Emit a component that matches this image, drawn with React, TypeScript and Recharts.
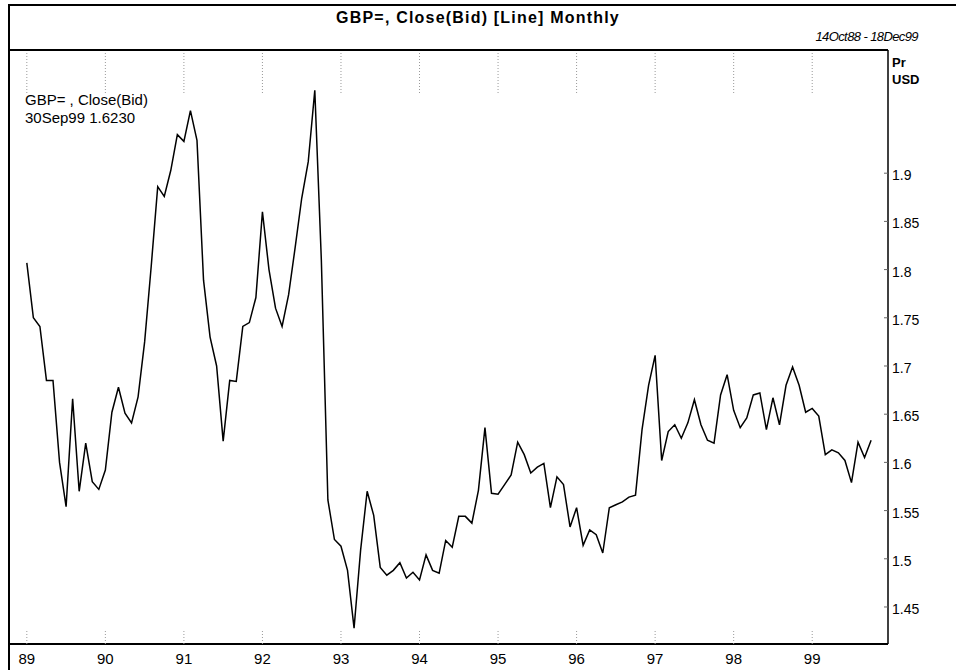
import { LineChart, Line, XAxis, YAxis } from "recharts";

// month-end closes, Dec 88 (index 0) .. Sep 99 (index 129)
const closeBid = [
  1.807, 1.75, 1.741, 1.685, 1.685, 1.6, 1.554, 1.666, 1.57, 1.62, 1.58, 1.572,
  1.592, 1.652, 1.678, 1.651, 1.641, 1.668, 1.725, 1.803, 1.886, 1.876, 1.903, 1.94,
  1.933, 1.965, 1.934, 1.789, 1.73, 1.7, 1.622, 1.685, 1.684, 1.741, 1.745, 1.771,
  1.86, 1.8, 1.76, 1.741, 1.774, 1.823, 1.874, 1.912, 1.986, 1.81, 1.561, 1.52,
  1.513, 1.488, 1.428, 1.509, 1.57, 1.545, 1.491, 1.483, 1.488, 1.496, 1.48, 1.486,
  1.478, 1.504, 1.488, 1.485, 1.519, 1.512, 1.544, 1.544, 1.537, 1.571, 1.636, 1.568,
  1.567, 1.577, 1.587, 1.621, 1.608, 1.589, 1.595, 1.599, 1.553, 1.585, 1.577, 1.533,
  1.553, 1.514, 1.53, 1.525, 1.506, 1.553, 1.556, 1.559, 1.564, 1.566, 1.634, 1.68,
  1.711, 1.602, 1.632, 1.639, 1.625, 1.641, 1.665, 1.639, 1.623, 1.62, 1.67, 1.691,
  1.654, 1.636, 1.646, 1.67, 1.672, 1.634, 1.667, 1.639, 1.68, 1.699, 1.68, 1.652,
  1.656, 1.648, 1.608, 1.613, 1.61, 1.602, 1.579, 1.621, 1.605, 1.623,
];

const yearLabels = ["89", "90", "91", "92", "93", "94", "95", "96", "97", "98", "99"];
const yearTicks = [0, 12, 24, 36, 48, 60, 72, 84, 96, 108, 120];
const priceTicks = [1.45, 1.5, 1.55, 1.6, 1.65, 1.7, 1.75, 1.8, 1.85, 1.9];

const PLOT_TOP = 50;
const PLOT_BOTTOM = 644;
const PLOT_RIGHT = 888;
const font = '"Liberation Sans", Arial, sans-serif';

const chartData = closeBid.map((v, i) => ({ m: i, close: v }));

function YearTick(props: any) {
  const { x, payload } = props;
  const label = yearLabels[yearTicks.indexOf(payload.value)];
  return (
    <g>
      <line x1={x} x2={x} y1={PLOT_TOP} y2={PLOT_TOP + 43} stroke="#999" strokeDasharray="1 2" />
      <line x1={x} x2={x} y1={PLOT_BOTTOM - 13} y2={PLOT_BOTTOM} stroke="#999" strokeDasharray="1 2" />
      <text x={x} y={PLOT_BOTTOM + 20} textAnchor="middle" fontSize={15} fontFamily={font} fill="#000">
        {label}
      </text>
    </g>
  );
}

function PriceTick(props: any) {
  const { y, payload } = props;
  return (
    <g>
      <line x1={PLOT_RIGHT - 4} x2={PLOT_RIGHT} y1={y} y2={y} stroke="#666" />
      <text x={PLOT_RIGHT + 4} y={y + 2} dy="0.36em" fontSize={14} fontFamily={font} fill="#000">
        {String(Number(payload.value.toFixed(2)))}
      </text>
    </g>
  );
}

export default function App() {
  return (
    <div style={{ position: "absolute", left: 0, top: 0, width: 956, height: 670, background: "#fff", overflow: "hidden" }}>
      <LineChart
        width={956}
        height={670}
        data={chartData}
        margin={{ top: PLOT_TOP, left: 10, right: 0, bottom: 0 }}
        style={{ position: "absolute", left: 0, top: 0 }}
      >
        <XAxis
          dataKey="m"
          type="number"
          domain={[-2.57, 131.58]}
          ticks={yearTicks}
          allowDataOverflow
          height={26}
          tickSize={0}
          tickLine={false}
          tick={YearTick}
          axisLine={{ stroke: "#000", strokeWidth: 2 }}
        />
        <YAxis
          orientation="right"
          type="number"
          domain={[1.4116, 2.0278]}
          ticks={priceTicks}
          allowDataOverflow
          width={68}
          tickSize={0}
          tickLine={false}
          tick={PriceTick}
          axisLine={{ stroke: "#000", strokeWidth: 1.5 }}
        />
        <Line
          type="linear"
          dataKey="close"
          stroke="#000"
          strokeWidth={1.5}
          dot={false}
          isAnimationActive={false}
        />
      </LineChart>

      {/* frame */}
      <div style={{ position: "absolute", left: 8, top: 4, width: 948, height: 2, background: "#000" }} />
      <div style={{ position: "absolute", left: 8, top: 4, width: 2, height: 666, background: "#000" }} />
      <div style={{ position: "absolute", left: 8, top: 49, width: 880, height: 2, background: "#000" }} />

      <div style={{ position: "absolute", left: 0, width: 956, top: 9, textAlign: "center", fontFamily: font, fontWeight: "bold", fontSize: 16, letterSpacing: 1.2 }}>
        GBP=, Close(Bid) [Line] Monthly
      </div>
      <div style={{ position: "absolute", right: 38, top: 29, fontFamily: font, fontStyle: "italic", fontSize: 13, letterSpacing: -0.6 }}>
        14Oct88 - 18Dec99
      </div>

      <div style={{ position: "absolute", left: 25, top: 91, fontFamily: font, fontSize: 15, lineHeight: "18px" }}>
        <div>GBP= , Close(Bid)</div>
        <div>30Sep99 1.6230</div>
      </div>

      <div style={{ position: "absolute", left: 892, top: 54, fontFamily: font, fontWeight: "bold", fontSize: 13, lineHeight: "17px" }}>
        <div>Pr</div>
        <div>USD</div>
      </div>
    </div>
  );
}
